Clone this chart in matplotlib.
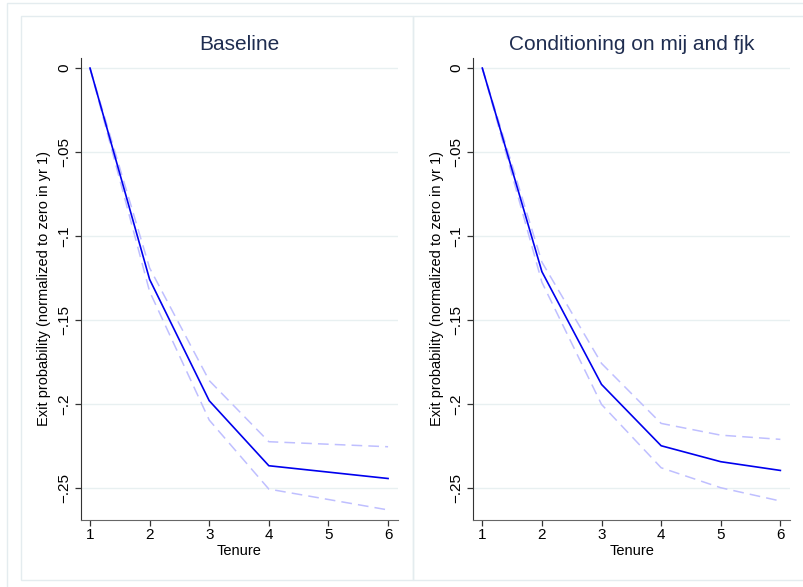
import matplotlib
matplotlib.use("Agg")
import matplotlib.pyplot as plt
from matplotlib.patches import Rectangle

plt.rcParams['font.family'] = ['Liberation Sans', 'DejaVu Sans']

# data
tenure = [1, 2, 3, 4, 5, 6]

base_est = [0.0, -0.1258, -0.198, -0.2367, -0.2405, -0.2443]
base_hi = [0.0, -0.119, -0.186, -0.2224, -0.2239, -0.2254]
base_lo = [0.0, -0.133, -0.2095, -0.2506, -0.2568, -0.263]

cond_est = [0.0, -0.1212, -0.1883, -0.2248, -0.2343, -0.2395]
cond_hi = [0.0, -0.1155, -0.1758, -0.2115, -0.2185, -0.221]
cond_lo = [0.0, -0.1275, -0.2002, -0.2379, -0.2498, -0.2577]

titles = ["Baseline", "Conditioning on mij and fjk"]
yticks = [0, -0.05, -0.1, -0.15, -0.2, -0.25]
ytick_labels = ["0", "\u2212.05", "\u2212.1", "\u2212.15", "\u2212.2", "\u2212.25"]
ylabel = "Exit probability (normalized to zero in yr 1)"
xlabel = "Tenure"

W, H = 804, 587
fig = plt.figure(figsize=(W / 100, H / 100), dpi=100)
fig.patch.set_facecolor("white")

border = "#e4ecef"
# outer frame and panel frames (graph combine look)
fig.patches.append(Rectangle((7 / W, -0.1), 1.2, 1.1 - 3 / H, transform=fig.transFigure,
                             fill=False, edgecolor=border, lw=1.0))
fig.patches.append(Rectangle((21 / W, 1 - 580 / H), (413 - 21) / W, (580 - 16) / H,
                             transform=fig.transFigure, fill=False, edgecolor=border, lw=1.0))
fig.patches.append(Rectangle((413 / W, 1 - 580 / H), (830 - 413) / W, (580 - 16) / H,
                             transform=fig.transFigure, fill=False, edgecolor=border, lw=1.0))

panels = [(base_est, base_hi, base_lo), (cond_est, cond_hi, cond_lo)]
lefts = [80.7, 473.0]

for i, (est, hi, lo) in enumerate(panels):
    ax = fig.add_axes([lefts[i] / W, 1 - 520 / H, 317.5 / W, 462 / H])
    ax.plot(tenure, hi, color="#bfbfff", lw=1.1, dashes=(7, 4))
    ax.plot(tenure, lo, color="#bfbfff", lw=1.1, dashes=(7, 4))
    ax.plot(tenure, est, color="#0000ee", lw=1.2)

    ax.set_xlim(0.844, 6.17)
    ax.set_ylim(-0.269, 0.006)
    ax.set_xticks(tenure)
    ax.set_yticks(yticks)
    ax.set_yticklabels(ytick_labels, rotation=90, va="center")
    ax.grid(axis="y", color="#e8f0f1", lw=1.0)
    ax.set_axisbelow(True)

    for s in ["top", "right"]:
        ax.spines[s].set_visible(False)
    ax.spines["left"].set_color("#333333")
    ax.spines["bottom"].set_color("#666666")
    ax.tick_params(axis="both", direction="out", length=4, width=0.9,
                   colors="#333333", labelsize=11, labelcolor="black")
    ax.tick_params(axis="y", pad=3)
    ax.tick_params(axis="x", pad=2)

    ax.set_xlabel(xlabel, fontsize=10.5, labelpad=1)
    ax.set_ylabel(ylabel, fontsize=10.5, labelpad=4)
    ax.set_title(titles[i], fontsize=15, color="#1f2d50", pad=6)

fig.savefig("out.png", dpi=100, facecolor="white")
